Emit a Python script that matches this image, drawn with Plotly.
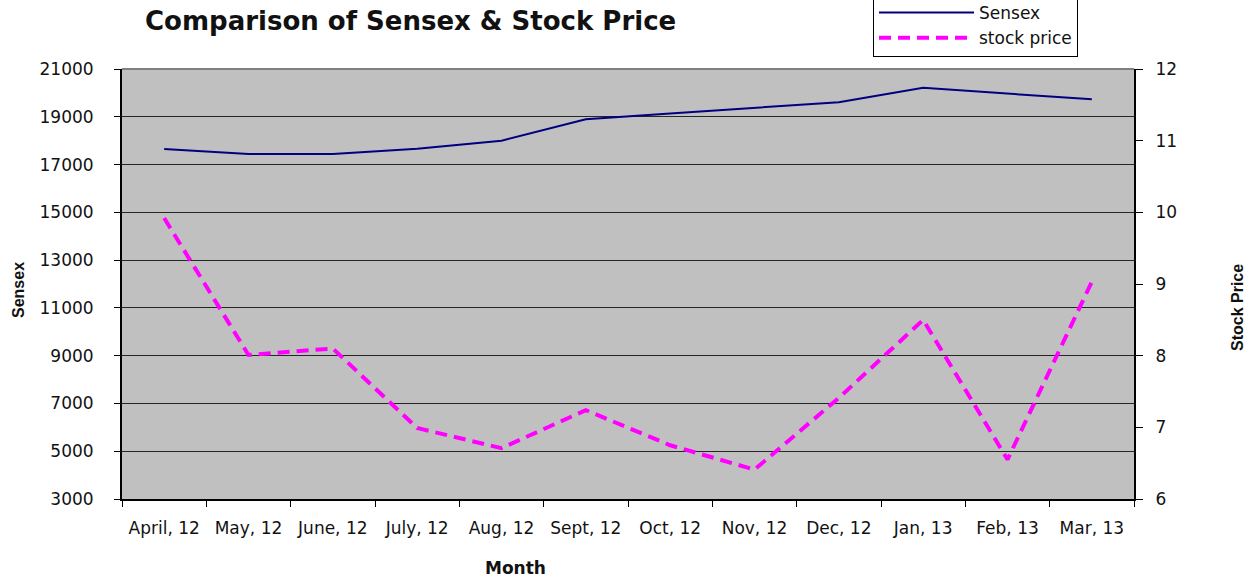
import plotly.graph_objects as go

months = ["April, 12", "May, 12", "June, 12", "July, 12", "Aug, 12", "Sept, 12",
          "Oct, 12", "Nov, 12", "Dec, 12", "Jan, 13", "Feb, 13", "Mar, 13"]
sensex = [17650, 17440, 17440, 17660, 18000, 18900, 19140, 19370, 19610, 20210, 19960, 19730]
stock_price = [9.92, 8.01, 8.10, 6.99, 6.71, 7.24, 6.75, 6.41, 7.41, 8.50, 6.55, 9.03]

left_ticks = list(range(3000, 21001, 2000))
left_labels = [str(v) for v in left_ticks]
right_ticks = list(range(6, 13))
right_labels = [str(v) for v in right_ticks]

FONT = "DejaVu Sans, Arial, sans-serif"
NARROW = "Liberation Sans Narrow, Arial Narrow, sans-serif"
TXT = "#111111"

fig = go.Figure()
fig.add_trace(go.Scatter(x=months, y=sensex, name="Sensex", mode="lines",
                         line=dict(color="#000080", width=2), yaxis="y"))
fig.add_trace(go.Scatter(x=months, y=stock_price, name="stock price", mode="lines",
                         line=dict(color="#FF00FF", width=4, dash="12px,7px"), yaxis="y2"))

fig.update_layout(
    width=1257, height=578,
    margin=dict(l=122, r=123, t=69, b=79, autoexpand=False),
    paper_bgcolor="white",
    plot_bgcolor="#C0C0C0",
    font=dict(family=FONT, size=16, color=TXT),
    title=dict(text="<b>Comparison of Sensex & Stock Price</b>", xref="container", x=145/1257,
               xanchor="left", y=1-21/578, yanchor="middle",
               font=dict(family=FONT, size=26, color=TXT)),
    showlegend=True,
    legend=dict(x=(873-122)/1012, y=(499-57)/430, xanchor="left", yanchor="bottom",
                bgcolor="white", bordercolor="black", borderwidth=1,
                font=dict(family=FONT, size=17, color=TXT),
                tracegroupgap=0, itemwidth=95),
    xaxis=dict(type="category", range=[-0.5, 11.5], showgrid=False, showline=True,
               linecolor="black", linewidth=2,
               ticks="outside", ticklen=6, tickcolor="black", tickson="boundaries",
               ticklabelstandoff=13, zeroline=False,
               tickfont=dict(family=FONT, size=17, color=TXT)),
    yaxis=dict(range=[3000, 21000], tickvals=left_ticks, ticktext=left_labels,
               showgrid=True, gridcolor="#262626",
               gridwidth=1, showline=True, linecolor="black", linewidth=2,
               ticks="outside", ticklen=6, tickcolor="black", zeroline=False,
               ticklabelstandoff=17,
               tickfont=dict(family=FONT, size=17, color=TXT)),
    yaxis2=dict(range=[6, 12], tickvals=right_ticks, ticktext=right_labels,
                overlaying="y", side="right",
                showgrid=False, showline=True, linecolor="black", linewidth=2,
                ticks="outside", ticklen=7, tickcolor="black", zeroline=False,
                ticklabelstandoff=9,
                tickfont=dict(family=FONT, size=17, color=TXT)),
    shapes=[dict(type="line", xref="paper", yref="paper", x0=0, x1=1, y0=1, y1=1,
                 line=dict(color="#7f7f7f", width=2))],
    annotations=[
        dict(text="<b>Sensex</b>", xref="paper", yref="paper", x=(18-122)/1012, y=(499-290)/430,
             xanchor="center", yanchor="middle",
             textangle=-90, showarrow=False, font=dict(family=NARROW, size=16, color=TXT)),
        dict(text="<b>Stock Price</b>", xref="paper", yref="paper", x=(1237-122)/1012,
             y=(499-308)/430, xanchor="center", yanchor="middle",
             textangle=-90, showarrow=False,
             font=dict(family=NARROW, size=16, color=TXT)),
        dict(text="<b>Month</b>", xref="paper", yref="paper", x=(515-122)/1012, y=(499-568)/430,
             xanchor="center", yanchor="middle",
             showarrow=False, font=dict(family=FONT, size=17, color=TXT)),
    ],
)

fig.write_html("out.html", config={"displayModeBar": False},
               post_script="document.body.style.margin='0';")
